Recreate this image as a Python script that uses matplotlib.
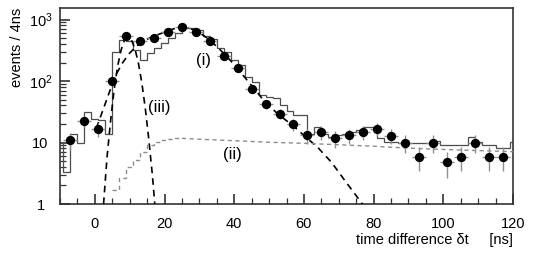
import numpy as np
import matplotlib
matplotlib.use('Agg')
import matplotlib.pyplot as plt
from matplotlib.ticker import FixedLocator, MultipleLocator, LogLocator, NullFormatter

plt.rcParams['font.family'] = ['Liberation Sans', 'DejaVu Sans']
plt.rcParams['mathtext.default'] = 'regular'

# ---------------- data ----------------
pt_t = [-7, -3, 1, 5, 9, 13, 17, 21, 25, 29, 33, 37, 41, 45, 49, 53,
        57, 61, 65, 69, 73, 77, 81, 85, 89, 93, 97, 101, 105, 109, 113, 117]
pt_n = [11, 22.6, 16.4, 101, 545, 452, 495, 620, 747, 633, 452, 255, 163, 74, 42, 29.6,
        19.8, 13.2, 15, 11.7, 13.2, 15, 16.6, 12.9, 9.9, 5.9, 9.9, 4.8, 5.9, 9.9, 5.9, 5.9]
pt_halfwidth = 2.0

hist_first_edge = -11
hist_binwidth = 2
hist_vals = [10, 3.3, 13.7, 9.9, 31.8, 24, 23, 14,
             300, 470, 440, 320, 219, 282, 340, 408, 494, 596,
             730, 720, 675, 545, 482, 340, 300, 219, 182, 117, 97, 59,
             56, 52, 41, 33, 28, 28, 14, 18, 14, 12.4, 13.2, 14, 15, 16,
             17.7, 17.7, 11.7, 10.3, 10.3, 9.7, 9.7, 9.9, 9.9, 9.9, 10.5,
             9.1, 9.1, 9.1, 9.1, 12.4, 10.3, 9.1, 9.1, 8.2, 8.2, 10.3]

# curve (i): broad component
ci_t = [0.4, 2, 4, 6, 8, 10, 12, 14, 16, 18, 20, 22, 24, 26, 28, 30, 32, 34, 36, 38,
        40, 42, 44, 46, 48, 50, 52, 54, 56, 58, 60, 64, 68, 72, 76.8]
ci_y = [17, 30, 62, 125, 200, 285, 370, 450, 510, 565, 625, 690, 740, 745, 690, 610,
        510, 410, 320, 245, 185, 135, 98, 72, 52, 40, 31, 25, 20.5, 16.5, 13,
        8.3, 4.7, 2.3, 1.0]

# curve (ii): flat component (stepped rise, then smooth tail)
cii_rise_t = [5, 7, 9, 11, 13, 15, 17, 19, 21, 23, 25]
cii_rise_y = [1.7, 2.6, 4.0, 5.2, 7.1, 9.1, 10.3, 11.0, 11.5, 11.7, 11.7]
cii_tail_t = [25, 30, 40, 50, 60, 70, 80, 90, 100, 110, 120]
cii_tail_y = [11.7, 11.3, 10.7, 10.1, 9.7, 9.2, 8.7, 8.1, 7.7, 7.4, 7.1]

# curve (iii): narrow prompt peak
ciii_t = [2.5, 3.5, 4.5, 5.5, 6.5, 7.5, 8.5, 9.5, 10.5, 11.5, 12.5, 13.5, 14.5, 15.5, 16.5, 17.2]
ciii_y = [1.0, 5.8, 22, 70, 170, 315, 460, 520, 465, 335, 195, 92, 35, 11, 3.0, 1.0]

ytick_vals = [1, 10, 100, 1000]
ytick_labels = ['1', '10', r'$10^{2}$', r'$10^{3}$']
xtick_vals = [0, 20, 40, 60, 80, 100, 120]

# ---------------- figure ----------------
W, H = 533, 257
fig = plt.figure(figsize=(W / 100, H / 100), dpi=100)
ax = fig.add_axes([60 / W, 1 - 204 / H, 453 / W, 196 / H])
ax.set_yscale('log')
ax.set_xlim(-10, 120)
ax.set_ylim(1, 1540)

edges = hist_first_edge + hist_binwidth * np.arange(len(hist_vals) + 1)
ax.stairs(hist_vals, edges, color='#4d4d4d', lw=0.9, baseline=None, zorder=2)

ax.plot(ci_t, ci_y, color='black', lw=1.2, ls=(0, (4, 3)), zorder=3)
ax.plot(ciii_t, ciii_y, color='black', lw=1.2, ls=(0, (4, 3)), zorder=3)
ax.plot(cii_rise_t, cii_rise_y, color='#8c8c8c', lw=1.0, ls=(0, (3, 2.5)),
        drawstyle='steps-post', zorder=3)
ax.plot(cii_tail_t, cii_tail_y, color='#8c8c8c', lw=1.0, ls=(0, (3, 2.5)), zorder=3)

pt_n_arr = np.array(pt_n)
ax.errorbar(pt_t, pt_n, yerr=np.sqrt(pt_n_arr), xerr=pt_halfwidth, fmt='o',
            color='black', ms=5.7, ecolor='#8f8f8f', elinewidth=1.0, capsize=0, zorder=4)

ax.text(31.2, 215, '(i)', fontsize=12, ha='center', va='center')
ax.text(39.6, 6.3, '(ii)', fontsize=12, ha='center', va='center')
ax.text(18.6, 37, '(iii)', fontsize=12, ha='center', va='center')

# axes styling
for s in ax.spines.values():
    s.set_color('#333333')
    s.set_linewidth(1.2)

ax.xaxis.set_major_locator(FixedLocator(xtick_vals))
ax.xaxis.set_minor_locator(MultipleLocator(5))
ax.yaxis.set_major_locator(FixedLocator(ytick_vals))
ax.set_yticklabels(ytick_labels)
ax.yaxis.set_minor_locator(LogLocator(base=10, subs=np.arange(2, 10)))
ax.yaxis.set_minor_formatter(NullFormatter())

ax.tick_params(which='both', direction='in', top=False, right=False, color='#333333')
ax.tick_params(which='major', length=7, width=1.2)
ax.tick_params(which='minor', length=4, width=0.9)
ax.tick_params(axis='x', which='major', pad=9, labelsize=10.5)
ax.tick_params(axis='y', which='major', pad=14, labelsize=10.5)
for lab in ax.get_yticklabels():
    lab.set_horizontalalignment('center')

ax.set_xlabel('time difference \u03b4t     [ns]', fontsize=10.5, loc='right')
ax.xaxis.set_label_coords(1.0, -(233 - 204) / 196)
ax.set_ylabel('events / 4ns', fontsize=10.5, loc='top')
ax.yaxis.set_label_coords((24 - 60) / 453, 1.0)

fig.savefig('out.png', dpi=100)
